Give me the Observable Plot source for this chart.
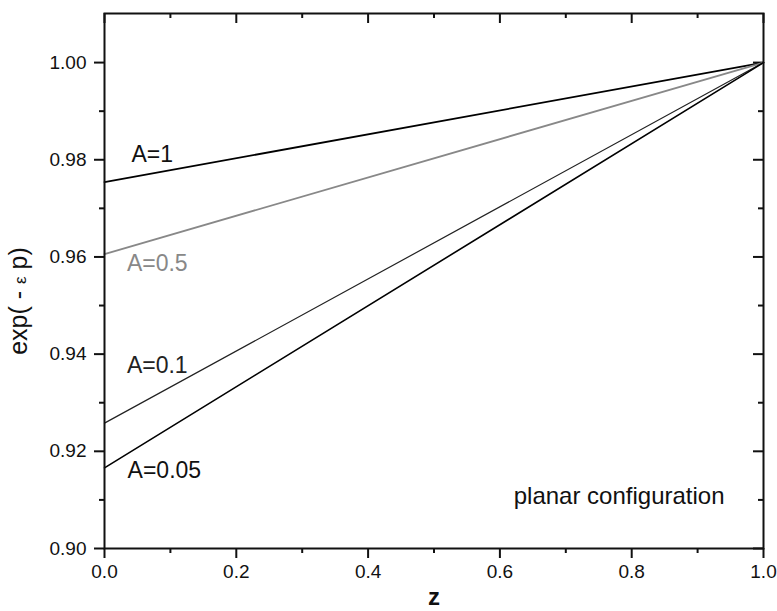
<!DOCTYPE html>
<html>
<head>
<meta charset="utf-8">
<script src="https://cdn.jsdelivr.net/npm/d3@7"></script>
<script src="https://cdn.jsdelivr.net/npm/@observablehq/plot@0.6"></script>
<style>
  html, body { margin: 0; padding: 0; background: #fff; }
</style>
</head>
<body>
<div id="chart"></div>
<script>
// Series: lines of exp(-εp) vs z for several A values
const seriesNames = ["A=1", "A=0.5", "A=0.1", "A=0.05"];
const zValues = [0, 1];
const seriesY = [
  [0.9754, 1.0],
  [0.9606, 1.0],
  [0.9258, 1.0],
  [0.9166, 1.0]
];
// label anchor positions (data coords)
const labelZ = [0.041, 0.034, 0.034, 0.035];
const labelY = [0.9811, 0.9586, 0.9377, 0.9160];
const annotationText = "planar configuration";
const annotationZ = 0.621;
const annotationY = 0.9107;

const xMajor = [0, 0.2, 0.4, 0.6, 0.8, 1.0];
const xMinor = [0.1, 0.3, 0.5, 0.7, 0.9];
const yMajor = [0.90, 0.92, 0.94, 0.96, 0.98, 1.00];
const yMinor = [0.91, 0.93, 0.95, 0.97, 0.99];

const strokes = ["#000", "#888", "#222", "#000"];
const widths = [1.8, 1.8, 1.2, 1.6];
const labelFill = ["#111", "#888", "#222", "#111"];

const W = 777, H = 611;
const mL = 104, mR = 14, mT = 13, mB = 63;
const pw = W - mL - mR, ph = H - mT - mB;

const lineMarks = seriesNames.map((name, i) =>
  Plot.line(zValues.map((z, j) => ({z, y: seriesY[i][j]})), {
    x: "z", y: "y", stroke: strokes[i], strokeWidth: widths[i]
  })
);
const labelMarks = seriesNames.map((name, i) =>
  Plot.text([name], {
    x: () => labelZ[i], y: () => labelY[i], text: d => d,
    textAnchor: "start", fill: labelFill[i], fontSize: 23
  })
);

const chart = Plot.plot({
  width: W, height: H,
  marginLeft: mL, marginRight: mR, marginTop: mT, marginBottom: mB,
  style: {fontFamily: "'Liberation Sans', Arial, Helvetica, sans-serif", background: "#fff", color: "#111"},
  x: {domain: [0, 1]},
  y: {domain: [0.90, 1.0101]},
  marks: [
    // bottom (outward) ticks + labels
    Plot.axisX(xMajor, {anchor: "bottom", tickSize: 10, tickPadding: 6, tickFormat: d3.format(".1f"), fontSize: 19, strokeWidth: 2, label: null}),
    Plot.axisX(xMinor, {anchor: "bottom", tickSize: 5, tickFormat: () => "", strokeWidth: 2, label: null}),
    // left (outward) ticks + labels
    Plot.axisY(yMajor, {anchor: "left", tickSize: 10, tickPadding: 8, tickFormat: d3.format(".2f"), fontSize: 19, strokeWidth: 2, label: null}),
    Plot.axisY(yMinor, {anchor: "left", tickSize: 5, tickFormat: () => "", strokeWidth: 2, label: null}),
    // top inward ticks
    Plot.ruleX(xMajor, {x: d => d, insetBottom: ph - 10, strokeWidth: 2, stroke: "#111"}),
    Plot.ruleX(xMinor, {x: d => d, insetBottom: ph - 5, strokeWidth: 2, stroke: "#111"}),
    // right inward ticks
    Plot.ruleY(yMajor, {y: d => d, insetLeft: pw - 10, strokeWidth: 2, stroke: "#111"}),
    Plot.ruleY(yMinor, {y: d => d, insetLeft: pw - 5, strokeWidth: 2, stroke: "#111"}),
    ...lineMarks,
    ...labelMarks,
    Plot.text([annotationText], {x: () => annotationZ, y: () => annotationY, text: d => d, textAnchor: "start", fontSize: 24, fill: "#111"}),
    // axis titles
    Plot.text(["z"], {frameAnchor: "bottom", dy: 49, lineAnchor: "middle", textAnchor: "middle", text: d => d, fontSize: 24, fontWeight: "bold", fill: "#111"}),
    Plot.text(["exp( - ε p)"], {frameAnchor: "left", rotate: -90, dx: -86, dy: 20, textAnchor: "middle", lineAnchor: "middle", text: d => d, fontSize: 25, fill: "#111"}),
    Plot.frame({stroke: "#111", strokeWidth: 2})
  ]
});
document.getElementById("chart").appendChild(chart);

// render the epsilon slightly smaller, as in the original typesetting
d3.select(chart).selectAll("text").each(function () {
  const t = this.textContent;
  if (t === "exp( - ε p)") {
    const el = d3.select(this);
    el.text(null);
    el.append("tspan").text("exp( - ");
    el.append("tspan").attr("font-size", 17).attr("dy", "-0.05em").text("ε");
    el.append("tspan").attr("dy", "0.05em").text(" p)");
  }
});
</script>
</body>
</html>
